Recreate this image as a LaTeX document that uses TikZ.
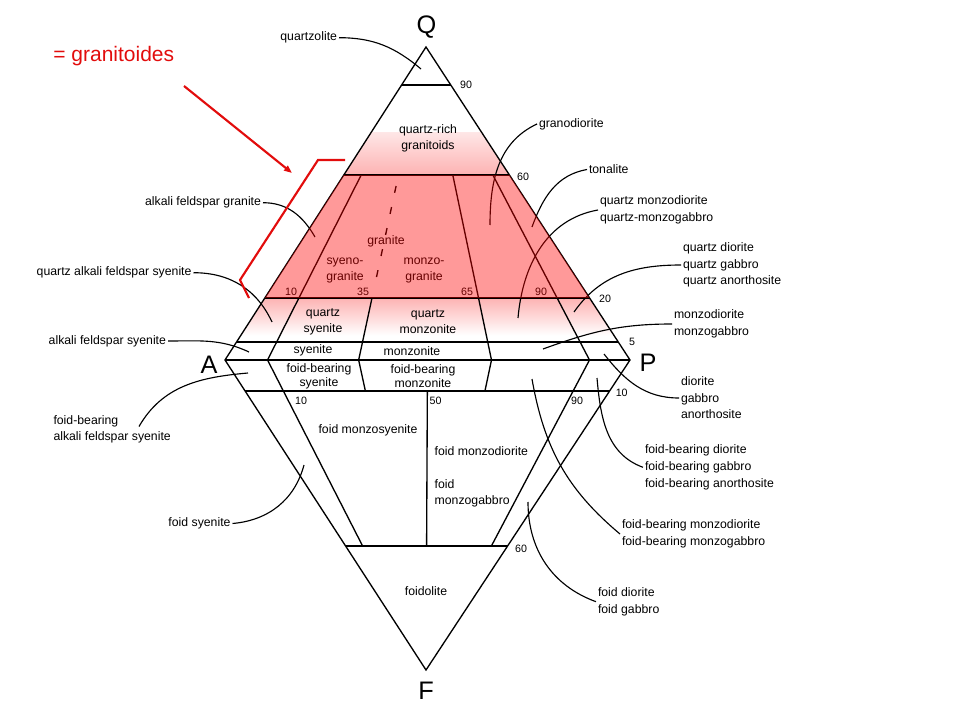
\documentclass[tikz,border=0pt]{standalone}
\usepackage{fontspec}
\setmainfont{Liberation Sans}
\usetikzlibrary{calc,arrows.meta}
\definecolor{markred}{RGB}{226,12,12}
\definecolor{granpink}{RGB}{252,153,153}
\begin{document}
\begin{tikzpicture}[x=0.75pt, y=0.75pt, line width=1pt,
  rocklabel/.style={font=\fontsize{9.2}{12.4}\selectfont, inner sep=1pt, align=left},
  fieldlabel/.style={font=\fontsize{9.2}{12.4}\selectfont, inner sep=0pt, align=center},
  numlabel/.style={font=\fontsize{8}{9}\selectfont, inner sep=0pt},
  apexlabel/.style={font=\fontsize{19}{20}\selectfont, inner sep=0pt},
  leader/.style={line width=0.85pt},
  granitoid/.style={fill=red, fill opacity=0.4},
  redmark/.style={draw=markred, line width=1.6pt}]
\useasboundingbox (0,0) rectangle (960,-720);
\coordinate (A) at (225,-360);
\coordinate (P) at (630,-360);
\coordinate (Q) at (426,-47);
\coordinate (F) at (426,-670);
\foreach \name/\t in {90/0.879, 60/0.591, 20/0.198, 5/0.058}{
  \coordinate (L\name) at ($(A)!\t!(Q)$);
  \coordinate (R\name) at ($(P)!\t!(Q)$);
}
\foreach \name/\t in {10/0.1, 60/0.6}{
  \coordinate (LF\name) at ($(A)!\t!(F)$);
  \coordinate (RF\name) at ($(P)!\t!(F)$);
}
\foreach \name/\t in {10/0.105, 35/0.33, 65/0.658, 90/0.9}
  \coordinate (b\name) at ($(A)!\t!(P)$);
% soft edges of the granitoid field
\begin{scope}
  \clip (A) -- (Q) -- (P) -- cycle;
  \begin{scope}
    \clip (200,-133) rectangle (660,-175);
    \shade[top color=white, bottom color=granpink] (200,-112) rectangle (660,-196);
  \end{scope}
  \begin{scope}
    \clip (200,-298) rectangle (660,-336);
    \shade[top color=granpink, bottom color=white] (200,-285.5) rectangle (660,-335.5);
  \end{scope}
\end{scope}
% outline and fields
\draw (A) -- (Q) -- (P) -- (F) -- cycle;
\draw (A) -- (P);
\foreach \name in {90,60,20,5} \draw (L\name) -- (R\name);
\draw (LF10) -- (RF10);
\draw (LF60) -- (RF60);
\draw ($(b10)!0.591!(Q)$) -- (b10) -- ($(b10)!0.6!(F)$);
\draw ($(b35)!0.198!(Q)$) -- (b35) -- ($(b35)!0.1!(F)$);
\draw[dash pattern=on 5.25pt off 10.9pt] ($(b35)!0.556!(Q)$) -- ($(b35)!0.259!(Q)$);
\draw ($(b65)!0.591!(Q)$) -- (b65) -- ($(b65)!0.1!(F)$);
\draw ($(b90)!0.591!(Q)$) -- (b90) -- ($(b90)!0.6!(F)$);
\draw ($(LF10)!0.5!(RF10)$) -- ($(LF60)!0.5!(RF60)$);
% corners
\node[apexlabel] (Qlab) at (426.5,-27) {Q};
\node[apexlabel] (Alab) at (209,-365) {A};
\node[apexlabel] (Plab) at (648,-363) {P};
\node[apexlabel] (Flab) at (426,-691) {F};
% numbers
\node[numlabel] (n90q) at (466,-85) {90};
\node[numlabel] (n60q) at (523,-177) {60};
\node[numlabel] (n20q) at (605,-299) {20};
\node[numlabel] (n5q) at (632,-342) {5};
\node[numlabel] (n10a) at (291,-291.7) {10};
\node[numlabel] (n35a) at (363,-291.7) {35};
\node[numlabel] (n65a) at (467,-291.7) {65};
\node[numlabel] (n90a) at (541,-291.7) {90};
\node[numlabel] (n10f) at (301,-400.7) {10};
\node[numlabel] (n50f) at (435.5,-400.7) {50};
\node[numlabel] (n90f) at (577,-400.7) {90};
\node[numlabel] (n10p) at (621.7,-393) {10};
\node[numlabel] (n60f) at (521,-549) {60};
% fields inside
\node[fieldlabel] (qzrich) at (428,-138.3) {quartz-rich\\granitoids};
\node[fieldlabel] (granite) at (386,-241.7) {granite};
\node[fieldlabel] (syenogr) at (345,-270.3) {syeno-\\granite};
\node[fieldlabel] (monzogr) at (424,-270.3) {monzo-\\granite};
\node[fieldlabel] (qzsy) at (323,-321.7) {quartz\\syenite};
\node[fieldlabel] (qzmz) at (428,-321.7) {quartz\\monzonite};
\node[fieldlabel] (syenite) at (313,-350.7) {syenite};
\node[fieldlabel] (monzonite) at (412,-350.7) {monzonite};
\node[fieldlabel, font=\fontsize{9.2}{10.5}\selectfont] (fbsy) at (319,-376.3) {foid-bearing\\syenite};
\node[fieldlabel, font=\fontsize{9.2}{10.5}\selectfont] (fbmz) at (423,-376.3) {foid-bearing\\monzonite};
\node[fieldlabel] (fmzsy) at (368,-430) {foid monzosyenite};
\node[fieldlabel, anchor=west, align=left] (fmzdi) at (434,-451.5) {foid monzodiorite};
\node[fieldlabel, anchor=west, align=left, font=\fontsize{9.2}{11.8}\selectfont] (fmzgb) at (434,-493) {foid\\monzogabbro};
\node[fieldlabel] (foidolite) at (426,-590.7) {foidolite};
% names outside
\node[rocklabel, anchor=east] (quartzolite) at (339,-37.7) {quartzolite};
\node[rocklabel, anchor=east] (afgranite) at (263,-202.7) {alkali feldspar granite};
\node[rocklabel, anchor=east] (qafsyenite) at (193.5,-272.7) {quartz alkali feldspar syenite};
\node[rocklabel, anchor=east] (afsyenite) at (168,-341) {alkali feldspar syenite};
\node[rocklabel, anchor=west] (fbafsyenite) at (51.5,-429.2) {foid-bearing\\alkali feldspar syenite};
\node[rocklabel, anchor=east] (fsyenite) at (232.5,-523.5) {foid syenite};
\node[rocklabel, anchor=west] (granodiorite) at (537,-124) {granodiorite};
\node[rocklabel, anchor=west] (tonalite) at (587,-169.5) {tonalite};
\node[rocklabel, anchor=west] (qmzdiorite) at (598,-210) {quartz monzodiorite\\quartz-monzogabbro};
\node[rocklabel, anchor=west] (qdiorite) at (681,-265) {quartz diorite\\quartz gabbro\\quartz anorthosite};
\node[rocklabel, anchor=west] (mzdiorite) at (672,-324) {monzodiorite\\monzogabbro};
\node[rocklabel, anchor=west] (diorite) at (679,-398) {diorite\\gabbro\\anorthosite};
\node[rocklabel, anchor=west] (fbdiorite) at (643,-467.3) {foid-bearing diorite\\foid-bearing gabbro\\foid-bearing anorthosite};
\node[rocklabel, anchor=west] (fbmzdiorite) at (620,-534) {foid-bearing monzodiorite\\foid-bearing monzogabbro};
\node[rocklabel, anchor=west] (fdiorite) at (596,-601.7) {foid diorite\\foid gabbro};
% leader ends
\coordinate (qzend) at (421,-69);
\coordinate (gdend) at (490,-225);
\coordinate (tnend) at (532,-227);
\coordinate (qmdend) at (518,-318);
\coordinate (qdend) at (574,-312);
\coordinate (mdend) at (543,-349);
\coordinate (drend) at (604,-354);
\coordinate (fbdend) at (597,-378);
\coordinate (fbmdend) at (532,-379);
\coordinate (fdend) at (528,-502);
\coordinate (fsend) at (304,-465);
\coordinate (fbafsstart) at (139,-426.5);
\coordinate (fbafsend) at (248,-373);
\coordinate (afsend) at (249,-352);
\coordinate (qafsend) at (272,-322);
\coordinate (afgend) at (315,-237);
% leaders
\draw[leader] (quartzolite.east) to[out=0, in=140] (qzend);
\draw[leader] (granodiorite.west) to[out=205, in=90] (gdend);
\draw[leader] (tonalite.west) to[out=190, in=70] (tnend);
\draw[leader] (qmzdiorite.west) to[out=190, in=85] (qmdend);
\draw[leader] (qdiorite.west) to[out=180, in=55] (qdend);
\draw[leader] (mzdiorite.west) to[out=180, in=20] (mdend);
\draw[leader] (diorite.west) to[out=180, in=-52] (drend);
\draw[leader] (fbdiorite.west) to[out=160, in=-85] (fbdend);
\draw[leader] (fbmzdiorite.west) to[out=140, in=-80] (fbmdend);
\draw[leader] (fdiorite.west) to[out=160, in=-90] (fdend);
\draw[leader] (fsyenite.east) to[out=5, in=-105] (fsend);
\draw[leader] (fbafsstart) to[out=60, in=185] (fbafsend);
\draw[leader] (afsyenite.east) to[out=0, in=155] (afsend);
\draw[leader] (qafsyenite.east) to[out=0, in=115] (qafsend);
\draw[leader] (afgranite.east) to[out=0, in=120] (afgend);
% granitoid field
\begin{scope}
  \clip (A) -- (Q) -- (P) -- cycle;
  \fill[granitoid] (200,-175) rectangle (660,-298);
\end{scope}
% red marks
\node[font=\fontsize{15.75}{18}\selectfont, text=markred, anchor=base west, inner sep=0pt] (granitoides) at (52.7,-61.7) {= granitoides};
\coordinate (arrowstart) at (184,-86);
\coordinate (arrowtip) at (292,-173);
\draw[redmark, -{Triangle[length=6pt, width=4.5pt]}] (arrowstart) -- (arrowtip);
\draw[redmark] (345,-160) -- (318,-160) -- (240,-280) -- (249,-298);
\end{tikzpicture}
\end{document}
